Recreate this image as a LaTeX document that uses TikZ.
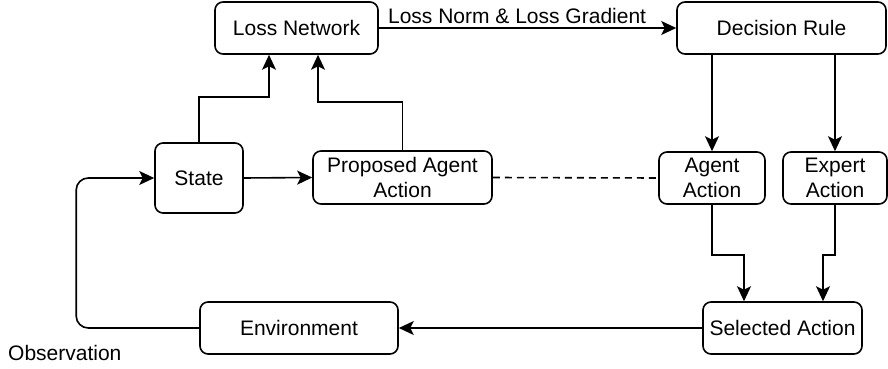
\documentclass[tikz,border=0pt]{standalone}
\usepackage{fontspec}
\setmainfont{Liberation Sans}
\usetikzlibrary{arrows.meta}

\tikzset{
  box/.style={draw, line width=1.6pt, rounded corners=8pt, align=center,
    inner sep=0pt, font=\fontsize{21}{25}\selectfont},
  link/.style={line width=1.6pt, -{Stealth[length=15pt,width=14pt,inset=3.5pt]}}
}

\begin{document}
\begin{tikzpicture}[x=1pt,y=-1pt]
  \useasboundingbox (0,0) rectangle (888,369);

  % boxes
  \node[box, minimum width=163pt, minimum height=52pt] (loss) at (296.5,28) {Loss Network};
  \node[box, minimum width=209pt, minimum height=52pt] (rule) at (781.5,28) {Decision Rule};
  \node[box, minimum width=88pt, minimum height=70pt] (state) at (199,178) {State};
  \node[box, minimum width=179pt, minimum height=53pt] (prop) at (402.5,177.5) {Proposed Agent\\Action};
  \node[box, minimum width=106pt, minimum height=52pt] (agent) at (712,178) {Agent\\Action};
  \node[box, minimum width=104pt, minimum height=52pt] (expert) at (835,178) {Expert\\Action};
  \node[box, minimum width=159pt, minimum height=52pt] (sel) at (782.5,328) {Selected Action};
  \node[box, minimum width=198pt, minimum height=52pt] (env) at (299,328) {Environment};
  \node[font=\fontsize{21}{25}\selectfont, anchor=west, inner sep=0pt] (obs) at (8,353) {Observation};

  % connectors
  \draw[link] (loss.east) -- (rule.west)
    node[pos=0.465, above=3pt, font=\fontsize{21}{25}\selectfont, inner sep=0pt] {Loss Norm \& Loss Gradient};
  \draw[link] (state.north) -- ++(0,-45) -| ([xshift=-27.5pt]loss.south);
  \draw[link] (prop.north) -- ++(0,-48.5) -| ([xshift=21.5pt]loss.south);
  \draw[link] (state.east) -- (prop.west);
  \draw[line width=1.6pt, dash pattern=on 7pt off 5pt] (prop.east) -- (agent.west);
  \draw[link] (rule.south -| agent.north) -- (agent.north);
  \draw[link] (rule.south -| expert.north) -- (expert.north);
  \draw[link] (agent.south) -- ++(0,50) -| ([xshift=-38.5pt]sel.north);
  \draw[link] (expert.south) -- ++(0,50) -| ([xshift=40.5pt]sel.north);
  \draw[link] (sel.west) -- (env.east);
  \draw[link, rounded corners=12pt] (env.west) -- ++(-123,0) |- (state.west);
\end{tikzpicture}
\end{document}
